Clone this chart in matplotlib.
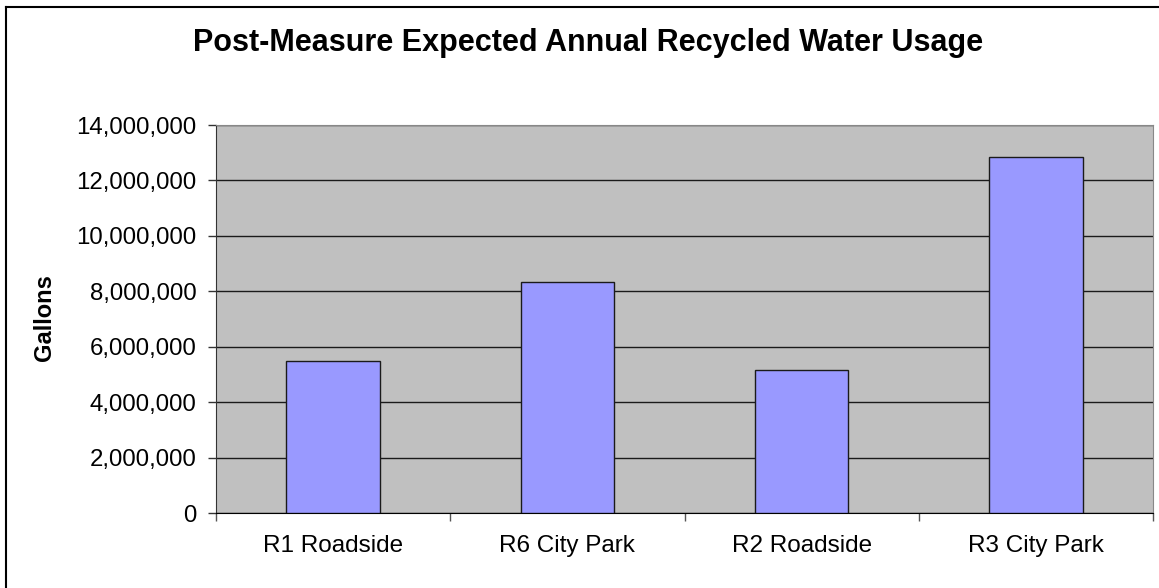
import matplotlib.pyplot as plt
from matplotlib.ticker import FuncFormatter, FixedLocator
from matplotlib.lines import Line2D

categories = ["R1 Roadside", "R6 City Park", "R2 Roadside", "R3 City Park"]
gallons = [5490000, 8340000, 5160000, 12830000]
yticks = list(range(0, 14000001, 2000000))

plt.rcParams['font.family'] = ['Liberation Sans', 'DejaVu Sans']

W, H = 1159, 588
fig = plt.figure(figsize=(W / 100, H / 100), dpi=100)
ax = fig.add_axes([216 / W, 1 - 513 / H, (1153 - 216) / W, (513 - 125) / H])
ax.set_facecolor("#c0c0c0")

x = list(range(len(categories)))
ax.bar(x, gallons, width=0.4, color="#9999ff", edgecolor="#1a1a1a", linewidth=1.0, zorder=3)

ax.set_xlim(-0.5, len(categories) - 0.5)
ax.set_ylim(0, 14000000)
ax.set_yticks(yticks)
ax.yaxis.set_major_formatter(FuncFormatter(lambda v, p: f"{int(v):,}"))
ax.grid(axis="y", color="#1a1a1a", linewidth=1.0, zorder=1)

ax.set_xticks(x)
ax.set_xticklabels(categories)
ax.xaxis.set_minor_locator(FixedLocator([i - 0.5 for i in range(len(categories) + 1)]))
ax.tick_params(axis="x", which="major", length=0, pad=16, labelsize=17.5)
ax.tick_params(axis="x", which="minor", length=5.5, width=1, color="#555555")
ax.tick_params(axis="y", length=5.8, width=1, color="#333333", labelsize=17.3, pad=8)

for side in ["top", "right"]:
    ax.spines[side].set_color("#888888")
ax.spines["left"].set_color("#333333")
ax.spines["bottom"].set_color("black")

fig.text(45 / W, 1 - 318 / H, "Gallons", rotation=90, ha="center", va="center",
         fontsize=17, fontweight="bold")
fig.text(588 / W, 1 - 43.5 / H, "Post-Measure Expected Annual Recycled Water Usage",
         ha="center", va="center", fontsize=22, fontweight="bold")

# chart frame: only its top and left edges fall inside the picture
fig.add_artist(Line2D([6 / W, 1], [1 - 6.5 / H, 1 - 6.5 / H], transform=fig.transFigure,
                      color="black", linewidth=1.5))
fig.add_artist(Line2D([6 / W, 6 / W], [0, 1 - 6.5 / H], transform=fig.transFigure,
                      color="black", linewidth=1.5))

fig.savefig("out.png", dpi=100)
